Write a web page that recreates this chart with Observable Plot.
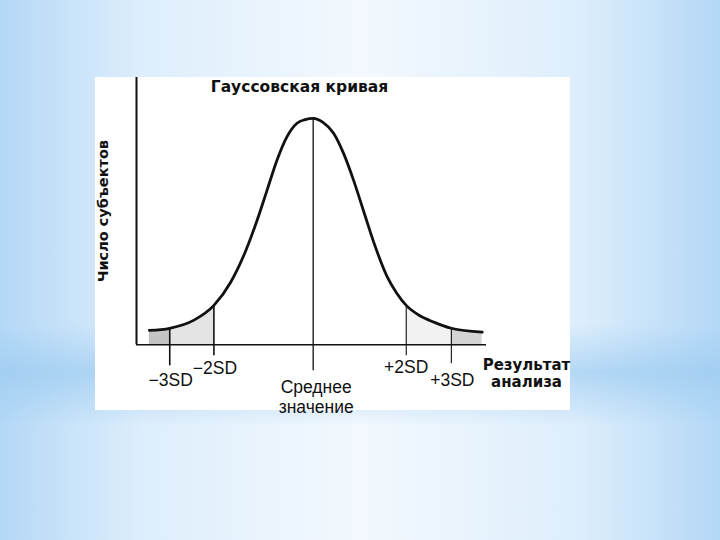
<!DOCTYPE html>
<html>
<head>
<meta charset="utf-8">
<script src="https://cdn.jsdelivr.net/npm/d3@7"></script>
<script src="https://cdn.jsdelivr.net/npm/@observablehq/plot@0.6"></script>
<style>
  html, body { margin: 0; padding: 0; }
  body {
    width: 720px; height: 540px; position: relative; overflow: hidden;
    background-image:
      linear-gradient(to bottom, rgba(150,200,240,0) 0%, rgba(150,200,240,0) 60%, rgba(150,200,240,0.6) 69%, rgba(150,200,240,0) 79%, rgba(150,200,240,0) 100%),
      linear-gradient(to right, #b4d8f6 0%, #deeefc 20%, #f3f9fe 50%, #deeefc 80%, #b4d8f6 100%);
  }
  #panel { position: absolute; left: 95px; top: 77px; width: 475px; height: 333px; background: #fff; }
  #panel svg { display: block; overflow: visible; }
</style>
</head>
<body>
<div id="panel"></div>
<script>
// ---- data (x in SD units from the mean, y relative to peak = 100) ----
const curveX = [-3.45, -3.02, -2.5, -2.09, -1.74, -1.43, -1.18, -0.97, -0.76, -0.55, -0.34, -0.17, 0, 0.2, 0.43, 0.64, 0.85, 1.07, 1.28, 1.56, 1.76, 1.96, 2.25, 2.54, 2.91, 3.56];
const curveY = [6.4, 7.3, 11.0, 17.4, 27.5, 41.0, 55.0, 68.3, 81.6, 91.9, 97.8, 99.4, 100, 98.3, 93.4, 84.5, 72.7, 58.5, 45.0, 30.0, 22.8, 17.4, 12.8, 10.0, 7.3, 5.6];
const markerX = [-3.02, -2.09, 0, 1.96, 2.91];
const markerLabels = ["−3SD", "−2SD", "Среднее\nзначение", "+2SD", "+3SD"];
const shadeRanges = [[-3.45, -3.02], [-3.02, -2.09], [1.96, 2.91], [2.91, 3.56]];
const titleText = "Гауссовская кривая";
const yLabelText = "Число субъектов";
const xLabelText = "Результат\nанализа";

// ---- styles ----
const xDomain = [-3.72, 3.65];
const yDomain = [0, 118];
const shadeFills = ["#c4c4c4", "#e4e4e4", "#f2f2f2", "#d4d4d4"];
const tickDrop = [21, 11, 26, 11, 19];
const tickWidth = [1.6, 1.6, 1.3, 1.1, 1.1];
const labelDy = [35, 22.5, 34.5, 22, 35];
const labelDx = [1, 1, 3, 0, 1];
const labelLineAnchor = ["middle", "middle", "top", "middle", "middle"];
const sans = "'Liberation Sans', Arial, Helvetica, sans-serif";
const boldFont = "'DejaVu Sans', sans-serif";

const curve = curveX.map((x, i) => ({x, y: curveY[i]}));
const yAt = x => curve.find(d => d.x === x).y;

const marks = [];
shadeRanges.forEach(([a, b], i) => {
  marks.push(Plot.areaY(curve.filter(d => d.x >= a && d.x <= b), {x: "x", y: "y", fill: shadeFills[i], curve: "monotone-x"}));
});
marks.push(Plot.ruleX([xDomain[0]], {stroke: "#111", strokeWidth: 2}));
marks.push(Plot.ruleY([0], {stroke: "#111", strokeWidth: 1.5}));
markerX.forEach((mx, i) => {
  marks.push(Plot.ruleX([mx], {y1: yAt(mx), y2: 0, stroke: "#111", strokeWidth: tickWidth[i], insetBottom: -tickDrop[i]}));
  marks.push(Plot.text([markerLabels[i]], {
    x: () => mx, y: () => 0, text: d => d, dy: labelDy[i], dx: labelDx[i],
    lineAnchor: labelLineAnchor[i], lineHeight: 1.12, fontSize: 17.5, fontFamily: sans, fill: "#111"
  }));
});
marks.push(Plot.line(curve, {x: "x", y: "y", stroke: "#111", strokeWidth: 2.8, curve: "monotone-x"}));
marks.push(Plot.text([titleText], {frameAnchor: "top", lineAnchor: "middle", dx: -12, dy: 10, fontSize: 15.5, fontWeight: "bold", fontFamily: boldFont, fill: "#111"}));
marks.push(Plot.text([yLabelText], {frameAnchor: "left", textAnchor: "middle", lineAnchor: "middle", dx: -33.5, dy: 0, rotate: -90, fontSize: 14.5, fontWeight: "bold", fontFamily: boldFont, fill: "#111"}));
marks.push(Plot.text([xLabelText], {frameAnchor: "bottom-right", textAnchor: "middle", dx: 40, dy: 13.5, lineAnchor: "top", lineHeight: 1.13, fontSize: 15, fontWeight: "bold", fontFamily: boldFont, fill: "#111"}));

const chart = Plot.plot({
  width: 475,
  height: 333,
  marginLeft: 41,
  marginRight: 84,
  marginTop: 0,
  marginBottom: 65.7,
  x: {domain: xDomain, axis: null},
  y: {domain: yDomain, axis: null},
  style: {background: "transparent", overflow: "visible"},
  marks
});
document.getElementById("panel").appendChild(chart);
</script>
</body>
</html>
